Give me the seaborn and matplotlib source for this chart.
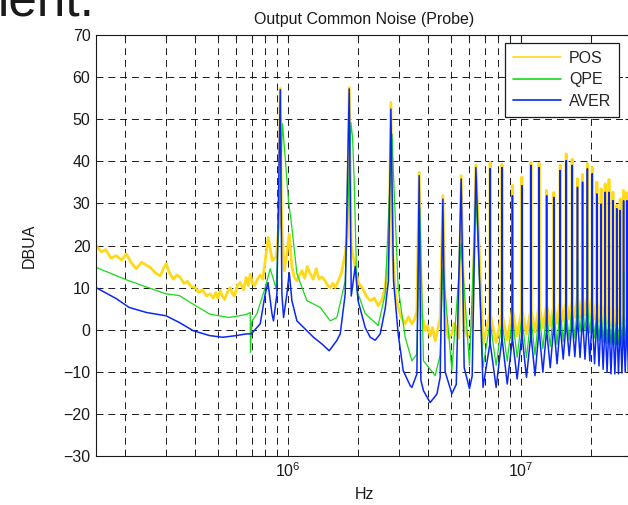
import matplotlib
matplotlib.use("Agg")
import matplotlib.pyplot as plt
from matplotlib.ticker import LogLocator, NullFormatter
import pandas as pd
import seaborn as sns

# ---- values, frequency in MHz, level in dBuA ----
SERIES = ["POS", "QPE", "AVER"]
COLORS = {"POS": "#FFD91A", "QPE": "#18D818", "AVER": "#0A28F5"}

# low band (explicit points up to the 7th harmonic)
POS_LOW_MHZ = [0.150, 0.158, 0.165, 0.174, 0.183, 0.193, 0.2023, 0.212, 0.2233, 0.235,
               0.2564, 0.27, 0.2831, 0.292, 0.3004, 0.31, 0.322, 0.333, 0.345, 0.358,
               0.37, 0.385, 0.40, 0.415, 0.43, 0.447, 0.4639, 0.478, 0.49, 0.50,
               0.5122, 0.523, 0.535, 0.55, 0.5654, 0.578, 0.59, 0.607, 0.624, 0.645,
               0.662, 0.676, 0.689, 0.705, 0.7203, 0.74, 0.76, 0.78, 0.7991, 0.8232,
               0.8562, 0.8908, 0.915, 0.927, 0.94, 0.965, 0.99, 1.013, 1.04, 1.065,
               1.093, 1.12, 1.149, 1.18, 1.21, 1.247, 1.285, 1.323, 1.36, 1.398,
               1.446, 1.48, 1.52, 1.56, 1.596, 1.65, 1.693, 1.762, 1.80, 1.833,
               1.87, 1.945, 2.01, 2.084, 2.17, 2.256, 2.35, 2.441, 2.53, 2.616,
               2.72, 2.767, 2.82, 2.90, 2.974, 3.06, 3.187, 3.29, 3.406, 3.50,
               3.578, 3.66, 3.75, 3.884, 3.98, 4.08, 4.18, 4.287, 4.40, 4.504,
               4.626, 4.75, 4.88, 5.056, 5.17, 5.28, 5.41, 5.543, 5.71, 5.86,
               6.017, 6.2, 6.411]
POS_LOW_DB = [20.0, 18.5, 19.0, 17.0, 17.6, 16.5, 18.0, 16.0, 14.5, 16.0,
              14.8, 13.5, 12.8, 14.5, 15.7, 13.5, 12.0, 13.0, 12.4, 11.0,
              11.5, 10.2, 10.0, 8.8, 9.5, 8.0, 8.5, 7.5, 8.8, 7.5,
              9.3, 8.0, 7.2, 9.0, 10.0, 8.5, 8.0, 10.5, 11.2, 9.5,
              12.4, 10.5, 13.2, 11.0, 10.5, 12.0, 13.0, 12.0, 16.4, 21.9,
              16.4, 17.2, 25.0, 57.3, 25.0, 14.0, 18.0, 22.7, 15.0, 12.5,
              11.6, 13.0, 14.0, 12.2, 15.0, 13.3, 12.0, 14.5, 12.0, 12.5,
              11.6, 10.5, 10.0, 11.0, 10.0, 11.8, 13.3, 18.0, 22.0, 57.5,
              20.0, 14.8, 11.0, 10.0, 8.0, 6.9, 7.5, 5.7, 7.0, 10.0,
              20.0, 54.0, 18.0, 8.0, 5.3, 3.0, 1.4, 3.0, 1.4, 2.5,
              4.5, 37.4, 4.0, -0.2, 1.0, -1.5, 0.5, -2.6, 0.0, 2.9,
              31.8, 1.0, -2.0, -1.0, 1.5, 0.0, -2.0, 36.6, 1.0, -1.5,
              -1.0, 1.0, 39.1]

QPE_LOW_MHZ = [0.150, 0.208, 0.300, 0.342, 0.391, 0.461, 0.560, 0.662, 0.6889, 0.6905,
               0.700, 0.736, 0.799, 0.8395, 0.8908, 0.948, 1.006, 1.040, 1.093, 1.206,
               1.376, 1.519, 1.623, 1.762, 1.864, 1.894, 1.925, 1.945, 1.978, 2.147,
               2.441, 2.616, 2.80, 2.839, 2.974, 3.187, 3.406, 3.578, 3.68, 3.819,
               4.287, 4.504, 4.626, 5.056, 5.543, 6.017, 6.411]
QPE_LOW_DB = [14.8, 11.6, 8.5, 8.1, 6.1, 3.7, 2.9, 3.6, 4.1, -5.4,
              2.0, 3.8, 10.0, 14.5, 9.7, 48.9, 30.6, 24.3, 13.3, 6.9,
              5.3, 2.1, 2.9, 11.6, 49.2, 45.7, 35.4, 25.9, 9.3, 3.8,
              1.0, 8.5, 46.5, 37.0, 10.0, -1.8, -7.4, -5.8, 29.0, -7.4,
              -10.9, -6.0, 14.8, -9.7, 20.4, -8.5, 32.2]

AVER_LOW_MHZ = [0.150, 0.183, 0.208, 0.2465, 0.300, 0.342, 0.391, 0.461, 0.526, 0.600,
                0.662, 0.696, 0.7605, 0.799, 0.821, 0.854, 0.867, 0.897, 0.927, 0.942,
                0.958, 0.990, 1.013, 1.040, 1.093, 1.288, 1.40, 1.504, 1.62, 1.677,
                1.762, 1.833, 1.87, 1.945, 2.00, 2.147, 2.256, 2.37, 2.49, 2.616,
                2.70, 2.767, 2.84, 2.974, 3.125, 3.349, 3.406, 3.578, 3.66, 3.722,
                3.819, 4.08, 4.36, 4.504, 4.626, 4.73, 5.056, 5.28, 5.543, 5.71,
                6.017, 6.18, 6.411]
AVER_LOW_DB = [10.0, 7.4, 5.3, 4.1, 3.3, 1.7, -0.2, -1.4, -1.8, -1.4,
               -1.0, -1.0, 1.4, 8.5, 11.2, 3.8, 2.1, 8.5, 57.0, 8.5,
               2.9, 8.5, 13.6, 6.9, 2.1, -1.8, -3.4, -5.0, -2.6, -1.0,
               8.5, 57.2, 8.0, 15.0, 6.9, 0.5, -1.8, -2.5, -1.0, 5.0,
               11.6, 52.4, 11.6, -1.0, -9.7, -13.3, -13.7, -10.5, 36.6, -12.0,
               -14.5, -17.3, -15.3, -11.3, 31.0, -10.0, -15.2, -13.0, 35.8, -9.0,
               -14.0, -11.0, 38.5]

# high band: harmonic spikes, the level at each spike's foot, and the valleys between
HARM_MHZ = [7.38, 8.30, 9.20, 10.1, 11.05, 11.97, 12.9, 13.85, 14.75, 15.65,
            16.6, 17.5, 18.4, 19.3, 20.25, 21.2, 22.1, 23.0, 23.9, 24.85,
            25.8, 26.7, 27.6, 28.5, 29.45]
VALLEY_MHZ = [6.88, 7.83, 8.74, 9.64, 10.57, 11.5, 12.43, 13.37, 14.3, 15.2,
              16.12, 17.05, 17.95, 18.85, 19.77, 20.72, 21.65, 22.55, 23.45, 24.37,
              25.32, 26.25, 27.15, 28.05, 28.97, 30.0]

POS_PEAK_DB = [39.7, 39.2, 34.2, 36.2, 39.7, 39.5, 33.0, 32.5, 39.0, 41.7,
               40.5, 35.8, 36.8, 39.4, 38.5, 35.0, 33.4, 34.6, 35.6, 32.6,
               29.5, 31.0, 33.0, 32.5, 33.0]
POS_FOOT_DB = [4.0, 4.0, 5.0, 5.0, 5.0, 6.0, 6.0, 6.0, 7.0, 7.0,
               7.0, 8.0, 8.0, 8.0, 8.0, 7.0, 7.0, 7.0, 7.0, 6.0,
               6.0, 6.0, 6.0, 6.0, 6.0]
POS_VALLEY_DB = [-3.5, -3.0, -2.5, -1.5, -1.0, -0.5, 0.5, 1.0, 1.5, 2.0,
                 2.5, 3.0, 3.0, 3.5, 3.0, 2.5, 2.0, 1.5, 1.5, 1.0,
                 1.0, 1.5, 1.5, 2.0, 2.0, 2.0]

QPE_PEAK_DB = [32.0, 21.0, 19.5, 29.0, 15.0, 17.0, 19.5, 15.0, 13.0, 10.0,
               22.8, 16.4, 21.0, 25.0, 26.0, 16.0, 14.8, 14.8, 16.0, 18.0,
               17.0, 14.8, 14.0, 15.0, 15.0]
QPE_FOOT_DB = [2.0, 2.0, 3.0, 3.0, 3.0, 4.0, 4.0, 5.0, 5.0, 5.0,
               6.0, 6.0, 6.0, 6.0, 6.0, 5.0, 5.0, 5.0, 4.0, 4.0,
               4.0, 4.0, 4.0, 4.0, 4.0]
QPE_VALLEY_DB = [-9.0, -8.5, -7.5, -6.6, -6.6, -6.0, -4.5, -4.0, -3.5, -2.8,
                 -2.5, -2.0, -0.5, -0.3, -0.8, -2.0, -2.6, -3.0, -3.3, -3.5,
                 -3.5, -3.5, -3.3, -3.3, -3.3, -3.3]

AVER_PEAK_DB = [38.2, 38.5, 31.8, 34.2, 39.0, 38.5, 31.8, 31.4, 37.8, 40.1,
                39.0, 33.8, 35.0, 38.2, 37.0, 32.2, 29.8, 32.6, 32.6, 30.6,
                28.7, 28.3, 30.6, 30.6, 31.0]
AVER_FOOT_DB = [-3.0, -2.0, -2.0, -1.0, -1.0, 0.0, 0.0, 1.0, 1.0, 2.0,
                2.0, 3.0, 3.0, 3.0, 3.0, 3.0, 3.0, 2.0, 2.0, 2.0,
                2.0, 2.0, 2.0, 2.0, 2.0]
AVER_VALLEY_DB = [-13.7, -13.7, -12.9, -11.7, -11.3, -10.9, -10.1, -9.0, -8.1, -7.0,
                  -6.2, -6.4, -6.6, -7.0, -7.4, -8.1, -8.6, -9.4, -10.1, -10.5,
                  -10.5, -10.5, -10.3, -10.1, -10.0, -10.0]

X_TICKS_HZ = [1e6, 1e7]
Y_TICKS = list(range(-30, 71, 10))


def trace(low_f, low_db, peak_db, foot_db, valley_db):
    f = list(low_f)
    db = list(low_db)
    for i, v in enumerate(VALLEY_MHZ):
        f.append(v)
        db.append(valley_db[i])
        if i < len(HARM_MHZ):
            # spike stands straight up from its foot
            f += [HARM_MHZ[i]] * 3
            db += [foot_db[i], peak_db[i], foot_db[i]]
    return f, db


frames = []
for name, low_f, low_db, pk, ft, vl in [
    ("POS", POS_LOW_MHZ, POS_LOW_DB, POS_PEAK_DB, POS_FOOT_DB, POS_VALLEY_DB),
    ("QPE", QPE_LOW_MHZ, QPE_LOW_DB, QPE_PEAK_DB, QPE_FOOT_DB, QPE_VALLEY_DB),
    ("AVER", AVER_LOW_MHZ, AVER_LOW_DB, AVER_PEAK_DB, AVER_FOOT_DB, AVER_VALLEY_DB),
]:
    f, db = trace(low_f, low_db, pk, ft, vl)
    frames.append(pd.DataFrame({"Hz": [v * 1e6 for v in f], "DBUA": db, "series": name}))
df = pd.concat(frames, ignore_index=True)

sns.set_theme(style="white")
plt.rcParams["font.family"] = ["Liberation Sans", "DejaVu Sans"]
plt.rcParams["mathtext.default"] = "regular"
plt.rcParams["lines.scale_dashes"] = False

fig = plt.figure(figsize=(6.28, 5.05), dpi=100)
ax = fig.add_axes([96 / 628, 1 - 456 / 505, 536 / 628, 421 / 505])

widths = {"POS": 2.0, "QPE": 0.9, "AVER": 1.1}
for name in SERIES:
    sub = df[df["series"] == name]
    sns.lineplot(data=sub, x="Hz", y="DBUA", ax=ax, color=COLORS[name],
                 lw=widths[name], label=name, estimator=None, sort=False)

ax.set_xscale("log")
ax.set_xlim(0.15e6, 30e6)
ax.set_ylim(-30, 70)
ax.set_yticks(Y_TICKS)
ax.set_xticks(X_TICKS_HZ)
ax.xaxis.set_minor_locator(LogLocator(base=10, subs=range(2, 10)))
ax.xaxis.set_minor_formatter(NullFormatter())

ax.set_axisbelow(True)
dash = (0, (5, 3.5))
ax.grid(True, which="both", axis="x", color="k", lw=0.7, linestyle=dash)
ax.grid(True, which="major", axis="y", color="k", lw=0.7, linestyle=dash)

ax.tick_params(which="both", direction="in", top=True, right=True,
               width=0.8, color="k", labelsize=11.5, labelcolor="k")
ax.tick_params(which="major", length=5, pad=4)
ax.tick_params(which="minor", length=3)
for s in ax.spines.values():
    s.set_color("k")
    s.set_linewidth(0.8)

ax.set_title("Output Common Noise (Probe)", fontsize=11.5, color="k", pad=8)
ax.set_xlabel("Hz", fontsize=11.5, color="k", labelpad=5)
ax.set_ylabel("DBUA", fontsize=11.5, color="k", labelpad=19)

leg = ax.legend(loc="upper right", bbox_to_anchor=(619 / 628, 1 - 43 / 505),
                bbox_transform=fig.transFigure, borderaxespad=0, frameon=True,
                fancybox=False, edgecolor="k", framealpha=1, fontsize=11.5,
                handlelength=3.0, handletextpad=0.5, borderpad=0.5,
                labelspacing=0.4)
leg.get_frame().set_linewidth(0.9)
for line in leg.get_lines():
    line.set_linewidth(1.2)

fig.text(-0.003, 1 - 16 / 505, "ient.", fontsize=37, color="k",
         ha="left", va="baseline")

fig.savefig("out.png", dpi=100)
